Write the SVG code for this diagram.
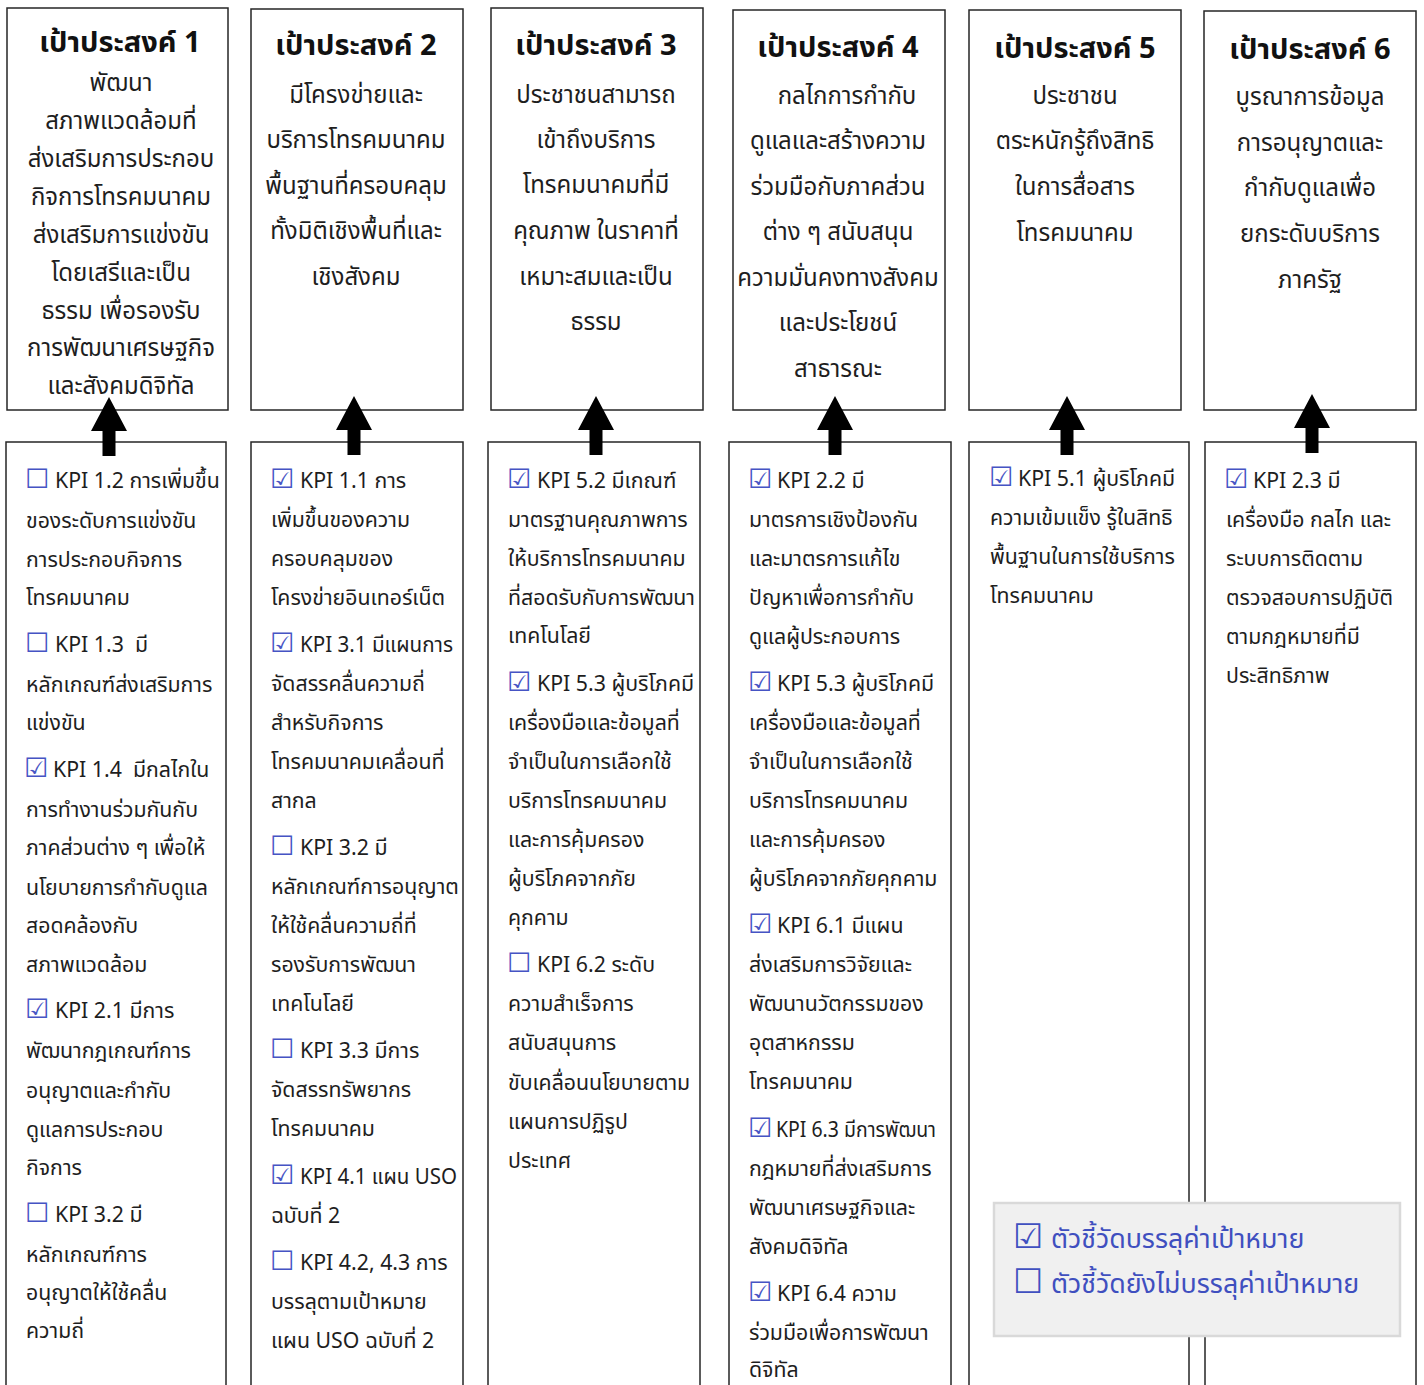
<svg xmlns="http://www.w3.org/2000/svg" width="1424" height="1385" viewBox="0 0 1424 1385">
<defs>
<style>
.box{fill:#fff;stroke:#262626;stroke-width:1.5}
text{font-family:"Noto Sans Thai","Leelawadee UI","Noto Sans","Liberation Sans",sans-serif;fill:#1e1e1e}
.title{font-size:29px;font-weight:bold;text-anchor:middle;fill:#111}
.goal{font-size:24px;text-anchor:middle}
.kpi{font-size:21.3px}
.cb{font-family:"DejaVu Sans",sans-serif;fill:#4654c4;font-size:27px}
.lcb{font-family:"DejaVu Sans",sans-serif;fill:#4050c0;font-size:34px}
.leg{font-size:26.8px;fill:#3f4fbf}
.arrow{fill:#000}
</style>
<path id="arr" d="M0 0 L18 34 L6.5 34 L6.5 59 L-6.5 59 L-6.5 34 L-18 34 Z"/>
</defs>
<rect width="1424" height="1385" fill="#fff"/>

<g id="goal1">
<rect class="box" x="7" y="8" width="221" height="402"/>
<text class="title" x="120" y="52">เป้าประสงค์ 1</text>
<text class="goal" x="121" y="91">พัฒนา</text>
<text class="goal" x="121" y="129">สภาพแวดล้อมที่</text>
<text class="goal" x="121" y="167">ส่งเสริมการประกอบ</text>
<text class="goal" x="121" y="205">กิจการโทรคมนาคม</text>
<text class="goal" x="121" y="243">ส่งเสริมการแข่งขัน</text>
<text class="goal" x="121" y="281">โดยเสรีและเป็น</text>
<text class="goal" x="121" y="319">ธรรม เพื่อรองรับ</text>
<text class="goal" x="121" y="356">การพัฒนาเศรษฐกิจ</text>
<text class="goal" x="121" y="394">และสังคมดิจิทัล</text>
</g>
<g id="goal2">
<rect class="box" x="251" y="9" width="212" height="401"/>
<text class="title" x="356" y="55">เป้าประสงค์ 2</text>
<text class="goal" x="356" y="103">มีโครงข่ายและ</text>
<text class="goal" x="356" y="148">บริการโทรคมนาคม</text>
<text class="goal" x="356" y="194">พื้นฐานที่ครอบคลุม</text>
<text class="goal" x="356" y="239">ทั้งมิติเชิงพื้นที่และ</text>
<text class="goal" x="356" y="285">เชิงสังคม</text>
</g>
<g id="goal3">
<rect class="box" x="491" y="8" width="212" height="402"/>
<text class="title" x="596" y="55">เป้าประสงค์ 3</text>
<text class="goal" x="596" y="103">ประชาชนสามารถ</text>
<text class="goal" x="596" y="148">เข้าถึงบริการ</text>
<text class="goal" x="596" y="193">โทรคมนาคมที่มี</text>
<text class="goal" x="596" y="239">คุณภาพ ในราคาที่</text>
<text class="goal" x="596" y="285">เหมาะสมและเป็น</text>
<text class="goal" x="596" y="330">ธรรม</text>
</g>
<g id="goal4">
<rect class="box" x="733" y="10" width="212" height="400"/>
<text class="title" x="838" y="57">เป้าประสงค์ 4</text>
<text class="goal" x="847" y="104">กลไกการกำกับ</text>
<text class="goal" x="838" y="149">ดูแลและสร้างความ</text>
<text class="goal" x="838" y="195">ร่วมมือกับภาคส่วน</text>
<text class="goal" x="838" y="240">ต่าง ๆ สนับสนุน</text>
<text class="goal" x="838" y="286">ความมั่นคงทางสังคม</text>
<text class="goal" x="838" y="331">และประโยชน์</text>
<text class="goal" x="838" y="377">สาธารณะ</text>
</g>
<g id="goal5">
<rect class="box" x="969" y="10" width="212" height="400"/>
<text class="title" x="1075" y="58">เป้าประสงค์ 5</text>
<text class="goal" x="1075" y="104">ประชาชน</text>
<text class="goal" x="1075" y="149">ตระหนักรู้ถึงสิทธิ</text>
<text class="goal" x="1075" y="195">ในการสื่อสาร</text>
<text class="goal" x="1075" y="241">โทรคมนาคม</text>
</g>
<g id="goal6">
<rect class="box" x="1204" y="11" width="212" height="399"/>
<text class="title" x="1310" y="59">เป้าประสงค์ 6</text>
<text class="goal" x="1310" y="105">บูรณาการข้อมูล</text>
<text class="goal" x="1310" y="151">การอนุญาตและ</text>
<text class="goal" x="1310" y="196">กำกับดูแลเพื่อ</text>
<text class="goal" x="1310" y="242">ยกระดับบริการ</text>
<text class="goal" x="1310" y="288">ภาครัฐ</text>
</g>

<g id="kpi1">
<rect class="box" x="6" y="442" width="220" height="980"/>
<text class="kpi" y="488"><tspan class="cb" x="25">☐</tspan><tspan x="55">KPI 1.2 การเพิ่มขึ้น</tspan></text>
<text class="kpi" x="26" y="528">ของระดับการแข่งขัน</text>
<text class="kpi" x="26" y="567">การประกอบกิจการ</text>
<text class="kpi" x="26" y="605">โทรคมนาคม</text>
<text class="kpi" y="652" xml:space="preserve"><tspan class="cb" x="25">☐</tspan><tspan x="55">KPI 1.3  มี</tspan></text>
<text class="kpi" x="26" y="692">หลักเกณฑ์ส่งเสริมการ</text>
<text class="kpi" x="26" y="730">แข่งขัน</text>
<text class="kpi" y="777" xml:space="preserve"><tspan class="cb" x="24">☑</tspan><tspan x="53">KPI 1.4  มีกลไกใน</tspan></text>
<text class="kpi" x="26" y="817">การทำงานร่วมกันกับ</text>
<text class="kpi" x="26" y="855">ภาคส่วนต่าง ๆ เพื่อให้</text>
<text class="kpi" x="26" y="895">นโยบายการกำกับดูแล</text>
<text class="kpi" x="26" y="933">สอดคล้องกับ</text>
<text class="kpi" x="26" y="972">สภาพแวดล้อม</text>
<text class="kpi" y="1018"><tspan class="cb" x="25">☑</tspan><tspan x="55">KPI 2.1 มีการ</tspan></text>
<text class="kpi" x="26" y="1058">พัฒนากฎเกณฑ์การ</text>
<text class="kpi" x="26" y="1098">อนุญาตและกำกับ</text>
<text class="kpi" x="26" y="1137">ดูแลการประกอบ</text>
<text class="kpi" x="26" y="1175">กิจการ</text>
<text class="kpi" y="1222"><tspan class="cb" x="25">☐</tspan><tspan x="55">KPI 3.2 มี</tspan></text>
<text class="kpi" x="26" y="1262">หลักเกณฑ์การ</text>
<text class="kpi" x="26" y="1300">อนุญาตให้ใช้คลื่น</text>
<text class="kpi" x="26" y="1338">ความถี่</text>
</g>

<g id="kpi2">
<rect class="box" x="251" y="442" width="212" height="980"/>
<text class="kpi" y="488"><tspan class="cb" x="270">☑</tspan><tspan x="300">KPI 1.1 การ</tspan></text>
<text class="kpi" x="271" y="527">เพิ่มขึ้นของความ</text>
<text class="kpi" x="271" y="566">ครอบคลุมของ</text>
<text class="kpi" x="271" y="605">โครงข่ายอินเทอร์เน็ต</text>
<text class="kpi" y="652"><tspan class="cb" x="270">☑</tspan><tspan x="300" textLength="153" lengthAdjust="spacingAndGlyphs">KPI 3.1 มีแผนการ</tspan></text>
<text class="kpi" x="271" y="691">จัดสรรคลื่นความถี่</text>
<text class="kpi" x="271" y="730">สำหรับกิจการ</text>
<text class="kpi" x="271" y="769">โทรคมนาคมเคลื่อนที่</text>
<text class="kpi" x="271" y="808">สากล</text>
<text class="kpi" y="855"><tspan class="cb" x="270">☐</tspan><tspan x="300">KPI 3.2 มี</tspan></text>
<text class="kpi" x="271" y="894">หลักเกณฑ์การอนุญาต</text>
<text class="kpi" x="271" y="933">ให้ใช้คลื่นความถี่ที่</text>
<text class="kpi" x="271" y="972">รองรับการพัฒนา</text>
<text class="kpi" x="271" y="1011">เทคโนโลยี</text>
<text class="kpi" y="1058"><tspan class="cb" x="270">☐</tspan><tspan x="300">KPI 3.3 มีการ</tspan></text>
<text class="kpi" x="271" y="1097">จัดสรรทรัพยากร</text>
<text class="kpi" x="271" y="1136">โทรคมนาคม</text>
<text class="kpi" y="1184"><tspan class="cb" x="270">☑</tspan><tspan x="300" textLength="157" lengthAdjust="spacingAndGlyphs">KPI 4.1 แผน USO</tspan></text>
<text class="kpi" x="271" y="1223">ฉบับที่ 2</text>
<text class="kpi" y="1270"><tspan class="cb" x="270">☐</tspan><tspan x="300">KPI 4.2, 4.3 การ</tspan></text>
<text class="kpi" x="271" y="1309">บรรลุตามเป้าหมาย</text>
<text class="kpi" x="271" y="1348">แผน USO ฉบับที่ 2</text>
</g>

<g id="kpi3">
<rect class="box" x="488" y="442" width="212" height="980"/>
<text class="kpi" y="488"><tspan class="cb" x="507">☑</tspan><tspan x="537">KPI 5.2 มีเกณฑ์</tspan></text>
<text class="kpi" x="508" y="527">มาตรฐานคุณภาพการ</text>
<text class="kpi" x="508" y="566">ให้บริการโทรคมนาคม</text>
<text class="kpi" x="508" y="605">ที่สอดรับกับการพัฒนา</text>
<text class="kpi" x="508" y="643">เทคโนโลยี</text>
<text class="kpi" y="691"><tspan class="cb" x="507">☑</tspan><tspan x="537">KPI 5.3 ผู้บริโภคมี</tspan></text>
<text class="kpi" x="508" y="730">เครื่องมือและข้อมูลที่</text>
<text class="kpi" x="508" y="769">จำเป็นในการเลือกใช้</text>
<text class="kpi" x="508" y="808">บริการโทรคมนาคม</text>
<text class="kpi" x="508" y="847">และการคุ้มครอง</text>
<text class="kpi" x="508" y="886">ผู้บริโภคจากภัย</text>
<text class="kpi" x="508" y="925">คุกคาม</text>
<text class="kpi" y="972"><tspan class="cb" x="507">☐</tspan><tspan x="537">KPI 6.2 ระดับ</tspan></text>
<text class="kpi" x="508" y="1011">ความสำเร็จการ</text>
<text class="kpi" x="508" y="1050">สนับสนุนการ</text>
<text class="kpi" x="508" y="1090">ขับเคลื่อนนโยบายตาม</text>
<text class="kpi" x="508" y="1129">แผนการปฏิรูป</text>
<text class="kpi" x="508" y="1168">ประเทศ</text>
</g>

<g id="kpi4">
<rect class="box" x="729" y="442" width="222" height="980"/>
<text class="kpi" y="488"><tspan class="cb" x="748">☑</tspan><tspan x="777">KPI 2.2 มี</tspan></text>
<text class="kpi" x="749" y="527">มาตรการเชิงป้องกัน</text>
<text class="kpi" x="749" y="566">และมาตรการแก้ไข</text>
<text class="kpi" x="749" y="605">ปัญหาเพื่อการกำกับ</text>
<text class="kpi" x="749" y="644">ดูแลผู้ประกอบการ</text>
<text class="kpi" y="691"><tspan class="cb" x="748">☑</tspan><tspan x="777">KPI 5.3 ผู้บริโภคมี</tspan></text>
<text class="kpi" x="749" y="730">เครื่องมือและข้อมูลที่</text>
<text class="kpi" x="749" y="769">จำเป็นในการเลือกใช้</text>
<text class="kpi" x="749" y="808">บริการโทรคมนาคม</text>
<text class="kpi" x="749" y="847">และการคุ้มครอง</text>
<text class="kpi" x="749" y="886">ผู้บริโภคจากภัยคุกคาม</text>
<text class="kpi" y="933"><tspan class="cb" x="748">☑</tspan><tspan x="777">KPI 6.1 มีแผน</tspan></text>
<text class="kpi" x="749" y="972">ส่งเสริมการวิจัยและ</text>
<text class="kpi" x="749" y="1011">พัฒนานวัตกรรมของ</text>
<text class="kpi" x="749" y="1050">อุตสาหกรรม</text>
<text class="kpi" x="749" y="1089">โทรคมนาคม</text>
<text class="kpi" y="1137"><tspan class="cb" x="748">☑</tspan><tspan x="776" textLength="160" lengthAdjust="spacingAndGlyphs">KPI 6.3 มีการพัฒนา</tspan></text>
<text class="kpi" x="749" y="1176">กฎหมายที่ส่งเสริมการ</text>
<text class="kpi" x="749" y="1215">พัฒนาเศรษฐกิจและ</text>
<text class="kpi" x="749" y="1254">สังคมดิจิทัล</text>
<text class="kpi" y="1301"><tspan class="cb" x="748">☑</tspan><tspan x="777">KPI 6.4 ความ</tspan></text>
<text class="kpi" x="749" y="1340">ร่วมมือเพื่อการพัฒนา</text>
<text class="kpi" x="749" y="1377">ดิจิทัล</text>
</g>

<g id="kpi5">
<rect class="box" x="969" y="442" width="220" height="980"/>
<text class="kpi" y="486"><tspan class="cb" x="989">☑</tspan><tspan x="1018">KPI 5.1 ผู้บริโภคมี</tspan></text>
<text class="kpi" x="990" y="525">ความเข้มแข็ง รู้ในสิทธิ</text>
<text class="kpi" x="990" y="564">พื้นฐานในการใช้บริการ</text>
<text class="kpi" x="990" y="603">โทรคมนาคม</text>
</g>

<g id="kpi6">
<rect class="box" x="1205" y="442" width="211" height="980"/>
<text class="kpi" y="488"><tspan class="cb" x="1224">☑</tspan><tspan x="1253">KPI 2.3 มี</tspan></text>
<text class="kpi" x="1226" y="527">เครื่องมือ กลไก และ</text>
<text class="kpi" x="1226" y="566">ระบบการติดตาม</text>
<text class="kpi" x="1226" y="605">ตรวจสอบการปฏิบัติ</text>
<text class="kpi" x="1226" y="644">ตามกฎหมายที่มี</text>
<text class="kpi" x="1226" y="683">ประสิทธิภาพ</text>
</g>

<g id="connectors">
<use href="#arr" class="arrow" x="109" y="397"/>
<use href="#arr" class="arrow" x="354" y="396"/>
<use href="#arr" class="arrow" x="596" y="396"/>
<use href="#arr" class="arrow" x="835" y="396"/>
<use href="#arr" class="arrow" x="1067" y="396"/>
<use href="#arr" class="arrow" x="1312" y="394"/>
</g>

<g id="legend">
<rect x="994" y="1203" width="406" height="133" fill="#f0f0f0" stroke="#d9d9d9" stroke-width="2.5"/>
<text class="leg" y="1248"><tspan class="lcb" x="1013">☑</tspan><tspan x="1051">ตัวชี้วัดบรรลุค่าเป้าหมาย</tspan></text>
<text class="leg" y="1293"><tspan class="lcb" x="1013">☐</tspan><tspan x="1051">ตัวชี้วัดยังไม่บรรลุค่าเป้าหมาย</tspan></text>
</g>
</svg>
